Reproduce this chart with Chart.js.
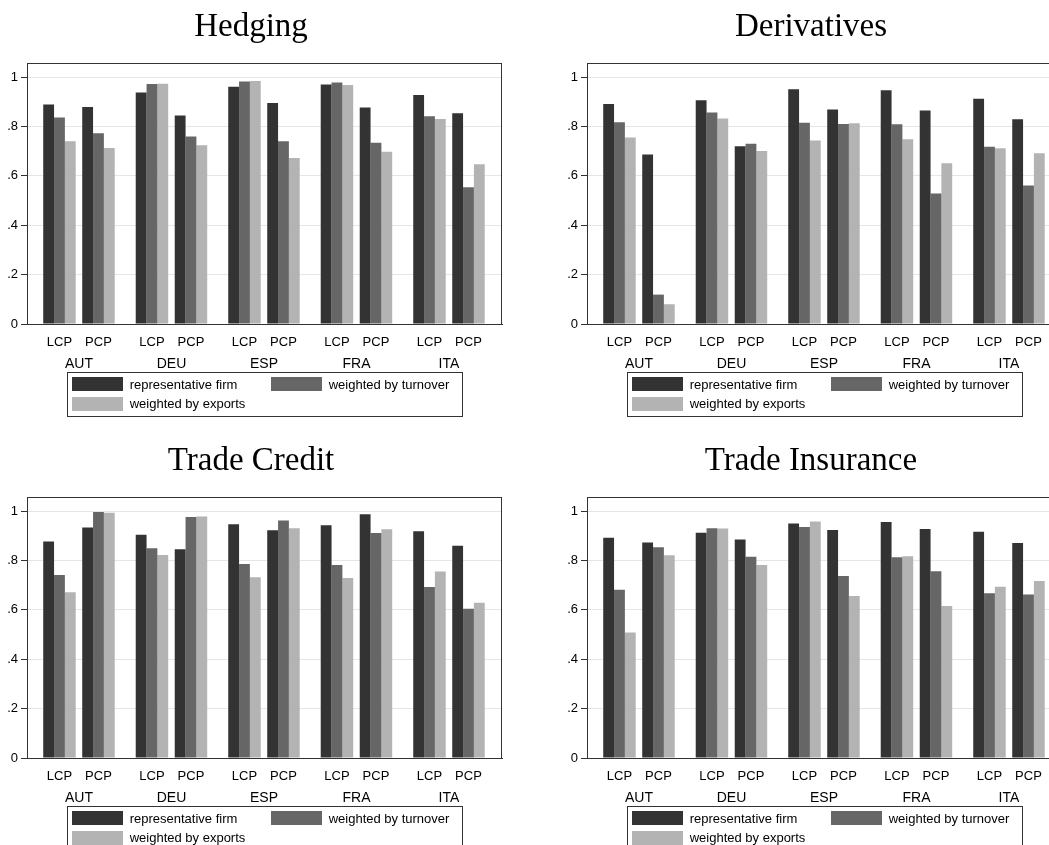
<!DOCTYPE html>
<html>
<head>
<meta charset="utf-8">
<script src="https://cdn.jsdelivr.net/npm/chart.js@4.4.1/dist/chart.umd.min.js"></script>
<style>
  body { margin: 0; background: #fff; }
  #page { position: relative; width: 1049px; height: 845px; overflow: hidden; background: #fff; }
  .panel { position: absolute; width: 560px; height: 434px; }
  .legend { position: absolute; left: 67px; top: 372px; width: 394px; height: 43px; border: 1px solid #333;
            font: 13px "Liberation Sans", Arial, sans-serif; color: #000; }
  .legend .item { position: absolute; display: flex; align-items: center; height: 14px; white-space: nowrap; }
  .legend .swatch { width: 51px; height: 14px; margin-right: 7px; }
</style>
</head>
<body>
<div id="page"></div>
<script>
const countries = ['AUT', 'DEU', 'ESP', 'FRA', 'ITA'];
const regimes = ['LCP', 'PCP'];
const seriesNames = ['representative firm', 'weighted by turnover', 'weighted by exports'];
const panelTitles = ['Hedging', 'Derivatives', 'Trade Credit', 'Trade Insurance'];
const yTicks = [0, 0.2, 0.4, 0.6, 0.8, 1];

// order: AUT LCP, AUT PCP, DEU LCP, DEU PCP, ... ITA PCP
const hedgingFirm     = [0.889, 0.879, 0.938, 0.844, 0.961, 0.895, 0.970, 0.877, 0.927, 0.854];
const hedgingTurnover = [0.836, 0.772, 0.972, 0.759, 0.982, 0.740, 0.978, 0.734, 0.841, 0.554];
const hedgingExports  = [0.740, 0.713, 0.973, 0.724, 0.984, 0.672, 0.968, 0.698, 0.830, 0.647];

const derivFirm     = [0.891, 0.686, 0.906, 0.720, 0.951, 0.869, 0.947, 0.865, 0.912, 0.829];
const derivTurnover = [0.817, 0.119, 0.857, 0.730, 0.815, 0.810, 0.809, 0.528, 0.718, 0.561];
const derivExports  = [0.755, 0.080, 0.832, 0.701, 0.743, 0.813, 0.748, 0.651, 0.712, 0.691];

const creditFirm     = [0.877, 0.933, 0.904, 0.845, 0.947, 0.922, 0.943, 0.987, 0.918, 0.860];
const creditTurnover = [0.741, 0.996, 0.849, 0.976, 0.786, 0.962, 0.782, 0.911, 0.693, 0.604];
const creditExports  = [0.671, 0.993, 0.822, 0.978, 0.732, 0.930, 0.729, 0.926, 0.755, 0.629];

const insureFirm     = [0.892, 0.873, 0.912, 0.885, 0.950, 0.923, 0.956, 0.927, 0.916, 0.871];
const insureTurnover = [0.681, 0.853, 0.930, 0.815, 0.935, 0.737, 0.813, 0.756, 0.667, 0.662];
const insureExports  = [0.508, 0.821, 0.929, 0.782, 0.958, 0.656, 0.817, 0.616, 0.694, 0.717];

const panelSeries = [
  [hedgingFirm, hedgingTurnover, hedgingExports],
  [derivFirm, derivTurnover, derivExports],
  [creditFirm, creditTurnover, creditExports],
  [insureFirm, insureTurnover, insureExports]
];

const seriesColors = ['#333333', '#666666', '#b3b3b3'];

// x layout: one unit per country, PCP group shifted right of LCP group
const regimeStep = 0.4216;
const barX = [];
countries.forEach((c, i) => regimes.forEach((r, j) => barX.push(i + j * regimeStep)));
const countryX = countries.map((c, i) => i + regimeStep / 2);

const sans = '"Liberation Sans", Arial, sans-serif';

const framePlugin = {
  id: 'frame',
  afterDraw(chart) {
    const a = chart.chartArea;
    const ctx = chart.ctx;
    ctx.save();
    ctx.strokeStyle = '#333';
    ctx.lineWidth = 1;
    ctx.strokeRect(Math.round(a.left) + 0.5, Math.round(a.top) + 0.5,
                   Math.round(a.right - a.left) - 1, Math.round(a.bottom - a.top));
    ctx.restore();
  }
};

const page = document.getElementById('page');

panelTitles.forEach((title, p) => {
  const panel = document.createElement('div');
  panel.className = 'panel';
  panel.style.left = (p % 2) * 560 + 'px';
  panel.style.top = Math.floor(p / 2) * 434 + 'px';
  const canvas = document.createElement('canvas');
  canvas.width = 560;
  canvas.height = 434;
  panel.appendChild(canvas);

  const legend = document.createElement('div');
  legend.className = 'legend';
  seriesNames.forEach((name, k) => {
    const item = document.createElement('div');
    item.className = 'item';
    item.style.left = (k % 2 === 0 ? 3.7 : 202.7) + 'px';
    item.style.top = (Math.floor(k / 2) === 0 ? 4.3 : 23.7) + 'px';
    item.innerHTML = `<span class="swatch" style="background:${seriesColors[k]}"></span><span>${name}</span>`;
    legend.appendChild(item);
  });
  panel.appendChild(legend);
  page.appendChild(panel);

  new Chart(canvas.getContext('2d'), {
    type: 'bar',
    data: {
      datasets: panelSeries[p].map((vals, k) => ({
        label: seriesNames[k],
        data: vals.map((v, n) => ({ x: barX[n], y: v })),
        backgroundColor: seriesColors[k],
        borderWidth: 0,
        categoryPercentage: 0.833,
        barPercentage: 1
      }))
    },
    options: {
      responsive: false,
      animation: false,
      layout: { padding: { left: 0, right: 58, top: 0, bottom: 66 } },
      plugins: {
        legend: { display: false },
        tooltip: { enabled: false },
        title: {
          display: true,
          text: title,
          color: '#000',
          font: { family: '"Liberation Serif", "DejaVu Serif", serif', size: 33, weight: 'normal', lineHeight: 1 },
          padding: { top: 10.5, bottom: 19.5 }
        }
      },
      scales: {
        x: {
          type: 'linear',
          offset: false,
          min: -0.351,
          max: 4.784,
          weight: 0,
          grid: { display: false, offset: false },
          border: { display: true, color: '#333' },
          afterBuildTicks: s => { s.ticks = barX.map(v => ({ value: v })); },
          afterFit: s => { s.height = 22; },
          ticks: {
            padding: 3,
            color: '#000',
            font: { family: sans, size: 13 },
            maxRotation: 0,
            autoSkip: false,
            callback: (v, i) => regimes[i % 2]
          }
        },
        country: {
          type: 'linear',
          position: 'bottom',
          axis: 'x',
          offset: false,
          min: -0.351,
          max: 4.784,
          weight: 1,
          grid: { display: false, offset: false },
          border: { display: false },
          afterBuildTicks: s => { s.ticks = countryX.map(v => ({ value: v })); },
          afterFit: s => { s.height = 22; },
          ticks: {
            padding: 2,
            color: '#000',
            font: { family: sans, size: 14 },
            maxRotation: 0,
            autoSkip: false,
            callback: (v, i) => countries[i]
          }
        },
        y: {
          min: 0,
          max: 1.057,
          grid: { color: '#e6e6e6', tickColor: '#333', tickLength: 6, lineWidth: 1 },
          border: { display: true, color: '#333' },
          afterBuildTicks: s => { s.ticks = yTicks.map(v => ({ value: v })); },
          afterFit: s => { s.width = 27; },
          ticks: {
            padding: 3,
            color: '#000',
            font: { family: sans, size: 13 },
            callback: v => (v === 0 || v === 1) ? String(v) : String(v).replace(/^0/, '')
          }
        }
      }
    },
    plugins: [framePlugin]
  });
});
</script>
</body>
</html>
